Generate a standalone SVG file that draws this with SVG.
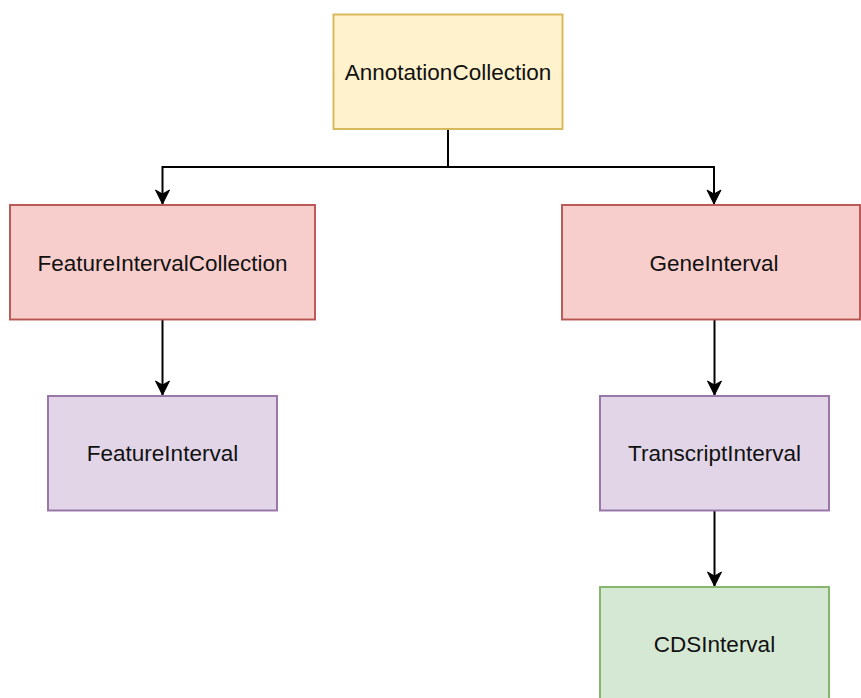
<svg xmlns="http://www.w3.org/2000/svg" width="861" height="698" viewBox="0 0 861 698">
<style>
.lbl{font-family:"Liberation Sans",Arial,Helvetica,sans-serif;font-size:22.5px;fill:#111;text-anchor:middle;dominant-baseline:central}
.yellow{fill:#fff2cc;stroke:#d6b656;stroke-width:1.9}
.red{fill:#f8cecc;stroke:#b85450;stroke-width:1.9}
.purple{fill:#e1d5e7;stroke:#9673a6;stroke-width:1.9}
.green{fill:#d5e8d4;stroke:#82b366;stroke-width:1.9}
.edge{fill:none;stroke:#000;stroke-width:2}
</style>
<defs>
<marker id="arr" markerUnits="userSpaceOnUse" viewBox="-1 -8 16 16" markerWidth="16" markerHeight="16" refX="14" refY="0" orient="auto">
<path d="M0,-7 L14,0 L0,7 L4,0 Z" fill="#000" stroke="#000" stroke-width="1"/>
</marker>
</defs>
<rect width="861" height="698" fill="#fff"/>
<g id="connectors">
<path class="edge" d="M448,129 V167"/>
<path class="edge" d="M448,167 H162.5 V204" marker-end="url(#arr)"/>
<path class="edge" d="M448,167 H714 V204" marker-end="url(#arr)"/>
<path class="edge" d="M162.5,319 V395" marker-end="url(#arr)"/>
<path class="edge" d="M714.5,319 V395" marker-end="url(#arr)"/>
<path class="edge" d="M714.5,510 V586" marker-end="url(#arr)"/>
</g>
<g id="AnnotationCollection">
<rect class="yellow" x="333.5" y="14.5" width="229" height="114.5"/>
<text class="lbl" x="448" y="72">AnnotationCollection</text>
</g>
<g id="FeatureIntervalCollection">
<rect class="red" x="10" y="205" width="305" height="114.5"/>
<text class="lbl" x="162.5" y="263">FeatureIntervalCollection</text>
</g>
<g id="GeneInterval">
<rect class="red" x="562" y="205" width="298" height="114.5"/>
<text class="lbl" x="714" y="263">GeneInterval</text>
</g>
<g id="FeatureInterval">
<rect class="purple" x="48" y="396" width="229" height="114.5"/>
<text class="lbl" x="162.5" y="453">FeatureInterval</text>
</g>
<g id="TranscriptInterval">
<rect class="purple" x="600" y="396" width="229" height="114.5"/>
<text class="lbl" x="714.5" y="453">TranscriptInterval</text>
</g>
<g id="CDSInterval">
<rect class="green" x="600" y="587" width="229" height="114.5"/>
<text class="lbl" x="714.5" y="644">CDSInterval</text>
</g>
</svg>
